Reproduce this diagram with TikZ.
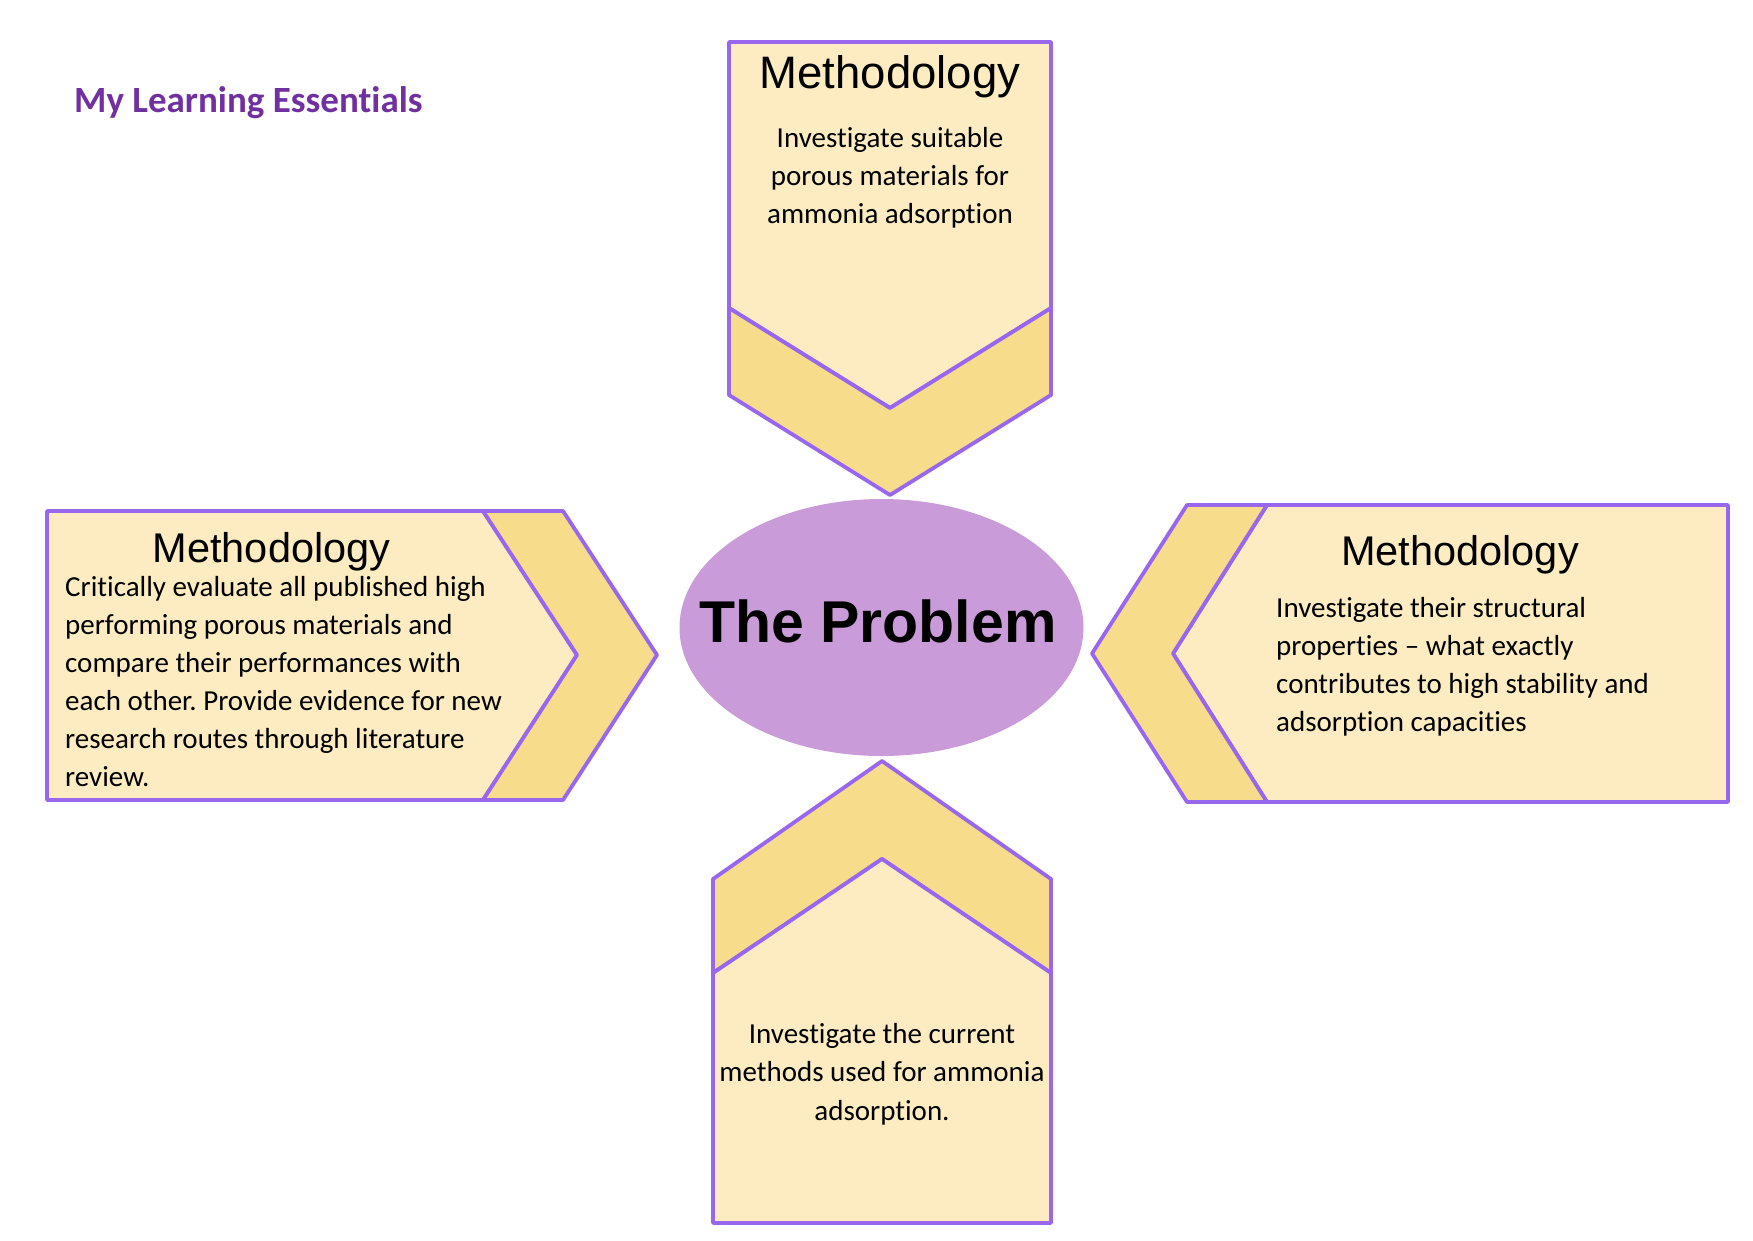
\documentclass[tikz,border=0pt]{standalone}
\usepackage{fontspec}
\setmainfont{Carlito}[Ligatures=NoCommon]
\newfontfamily\arialf{Liberation Sans}
\usetikzlibrary{shapes.geometric}
\definecolor{lightfill}{HTML}{FDEBC1}
\definecolor{darkfill}{HTML}{F6DC8B}
\definecolor{edgecol}{HTML}{9966EE}
\definecolor{ellfill}{HTML}{C99BD8}
\definecolor{titlepurple}{HTML}{7030A0}
\frenchspacing
\begin{document}
\begin{tikzpicture}[x=1pt,y=-1pt,
  panel/.style={fill=lightfill,draw=edgecol,line width=3.8pt,line join=round},
  band/.style={fill=darkfill,draw=edgecol,line width=3.8pt,line join=round},
  headbig/.style={font=\arialf\fontsize{45.5}{52}\selectfont,inner sep=0,anchor=base},
  headsmall/.style={font=\arialf\fontsize{41.5}{48}\selectfont,inner sep=0,anchor=base},
  bodyc/.style={font=\fontsize{29}{36}\selectfont,inner sep=0,anchor=base},
  bodyl/.style={font=\fontsize{29}{36}\selectfont,inner sep=0,anchor=base west},
]
\useasboundingbox (0,0) rectangle (1753,1240);

% title
\node[font=\bfseries\fontsize{37}{44}\selectfont,text=titlepurple,inner sep=0,anchor=base west] (title) at (74,112) {My Learning Essentials};

% central ellipse
\node[ellipse,fill=ellfill,minimum width=404pt,minimum height=257pt,inner sep=0] (prob) at (881.5,627.5) {};
\node[font=\arialf\bfseries\fontsize{59}{66}\selectfont,inner sep=0,anchor=base] (probtext) at (878,642) {The Problem};

% top box
\draw[panel] (729,42) -- (1051,42) -- (1051,308) -- (890,408) -- (729,308) -- cycle;
\draw[band] (729,308) -- (890,408) -- (1051,308) -- (1051,395) -- (890,495) -- (729,395) -- cycle;
\node[headbig] (th) at (890,88) {Methodology};
\node[bodyc] (t1) at (890,147) {Investigate suitable};
\node[bodyc] (t2) at (890,185) {porous materials for};
\node[bodyc] (t3) at (890,223) {ammonia adsorption};

% left box
\draw[panel] (47,511) -- (483,511) -- (577,655) -- (483,800) -- (47,800) -- cycle;
\draw[band] (483,511) -- (563,511) -- (657,655) -- (563,800) -- (483,800) -- (577,655) -- cycle;
\node[headsmall] (lh) at (271.5,562) {Methodology};
\node[bodyl] (l1) at (65,596) {Critically evaluate all published high};
\node[bodyl] (l2) at (65,634.2) {performing porous materials and};
\node[bodyl] (l3) at (65,672.3) {compare their performances with};
\node[bodyl] (l4) at (65,710.4) {each other. Provide evidence for new};
\node[bodyl] (l5) at (65,748.5) {research routes through literature};
\node[bodyl] (l6) at (65,786.7) {review.};

% right box
\draw[panel] (1267,505) -- (1728,505) -- (1728,802) -- (1267,802) -- (1173,653.5) -- cycle;
\draw[band] (1187,505) -- (1267,505) -- (1173,653.5) -- (1267,802) -- (1187,802) -- (1092,653.5) -- cycle;
\node[headsmall] (rh) at (1460,565) {Methodology};
\node[bodyl] (r1) at (1276,617) {Investigate their structural};
\node[bodyl] (r2) at (1276,655) {properties -- what exactly};
\node[bodyl] (r3) at (1276,693) {contributes to high stability and};
\node[bodyl] (r4) at (1276,731.5) {adsorption capacities};

% bottom box
\draw[band] (882,761) -- (1051,879) -- (1051,973) -- (882,859) -- (713,973) -- (713,879) -- cycle;
\draw[panel] (713,973) -- (882,859) -- (1051,973) -- (1051,1223) -- (713,1223) -- cycle;
\node[bodyc] (b1) at (882,1043.3) {Investigate the current};
\node[bodyc] (b2) at (882,1081.7) {methods used for ammonia};
\node[bodyc] (b3) at (882,1120) {adsorption.};
\end{tikzpicture}
\end{document}
